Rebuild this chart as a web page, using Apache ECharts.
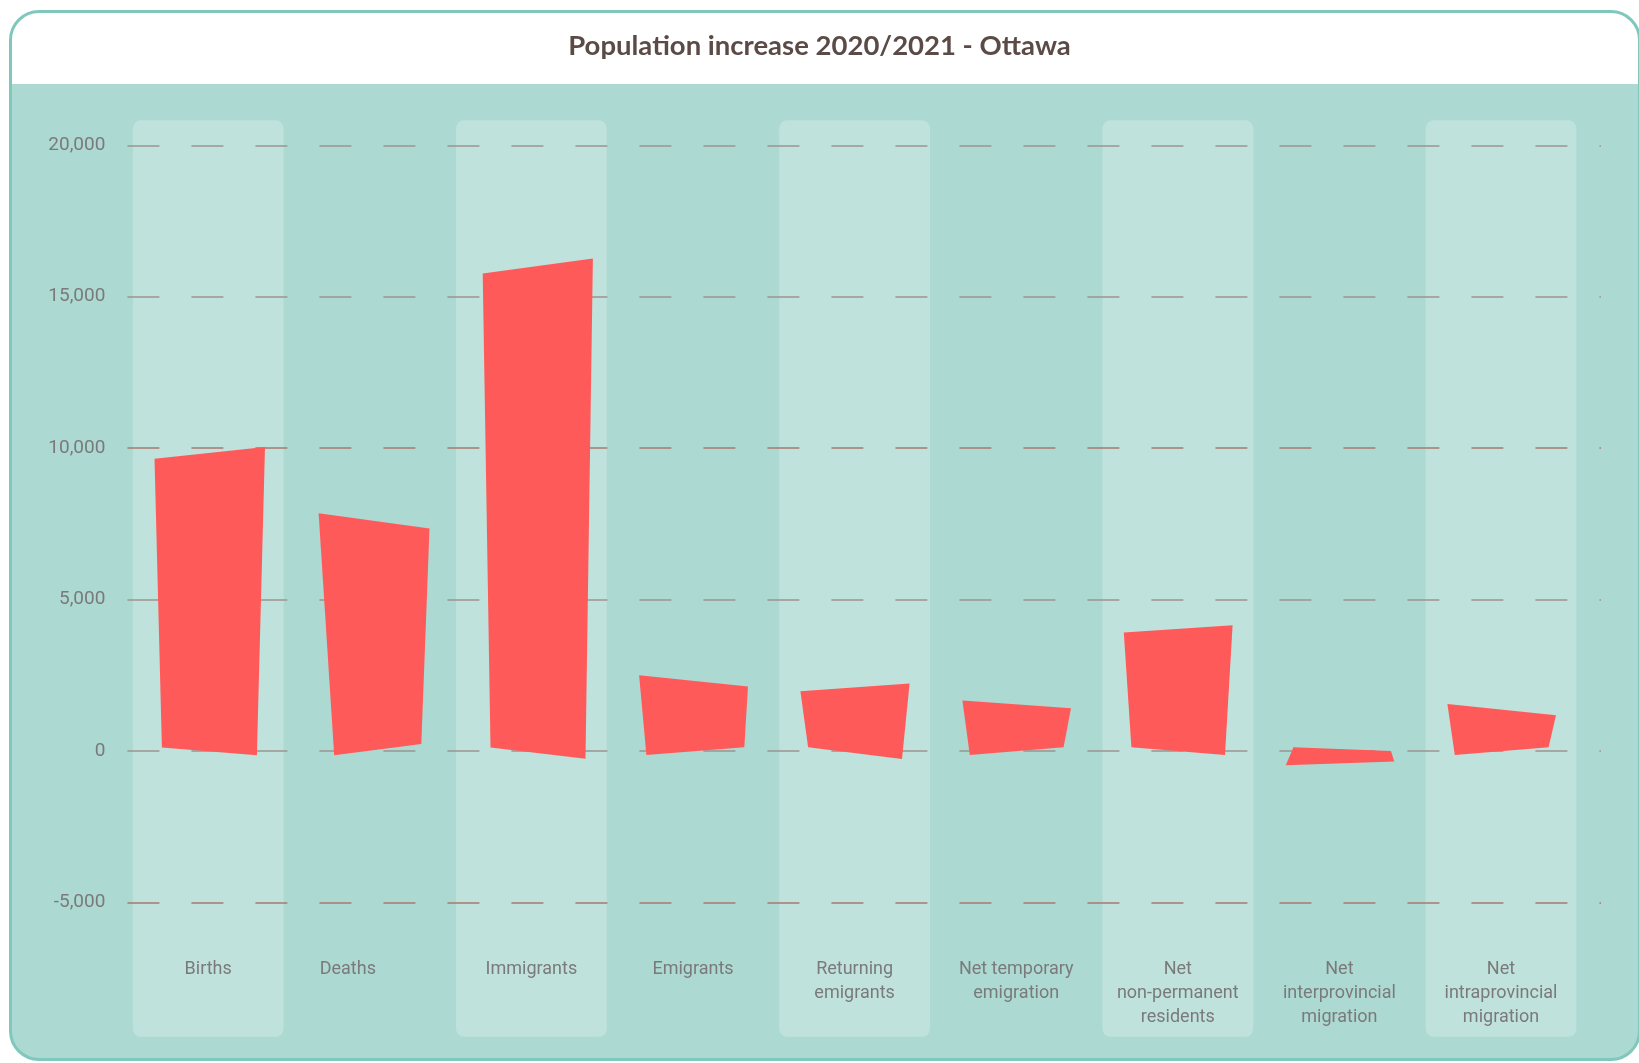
<!DOCTYPE html>
<html>
<head>
<meta charset="utf-8">
<script src="https://cdn.jsdelivr.net/npm/echarts@6/dist/echarts.min.js"></script>
<style>
  html, body { margin: 0; padding: 0; background: #ffffff; }
  #wrap { position: relative; width: 1639px; height: 1063px; overflow: hidden; }
  #card {
    position: absolute; left: 9px; top: 10px; width: 1632px; height: 1051px;
    box-sizing: border-box; border: 3px solid #80c8bc; border-radius: 30px;
    background: linear-gradient(#ffffff 0px, #ffffff 71px, #add9d3 71px);
  }
  #chart { position: absolute; left: 0; top: 0; width: 1639px; height: 1063px; }
</style>
</head>
<body>
<div id="wrap">
  <div id="card"></div>
  <div id="chart"></div>
</div>
<script>
// ---- data ----
const categories = [
  'Births', 'Deaths', 'Immigrants', 'Emigrants', 'Returning\nemigrants',
  'Net temporary\nemigration', 'Net\nnon-permanent\nresidents',
  'Net\ninterprovincial\nmigration', 'Net\nintraprovincial\nmigration'
];
const values = [9840, 7590, 16010, 2310, 2100, 1540, 4030, -410, 1370];
const yMin = -5000;
const yMax = 20000;
const yInterval = 5000;

// ---- style: hand-drawn corner wobble in pixels [vlx, vly, vrx, vry, zrx, zry, zlx, zly] ----
const sketchJitter = [
  [-3.6, 5.9, 6.7, -6.0, -1.4, 4.4, 3.8, -3.4],
  [-1.1, -7.7, 9.6, 7.5, 1.4, -6.8, 14.5, 4.4],
  [1.4, 7.4, 11.4, -7.5, 4.0, 7.8, 9.2, -3.4],
  [-3.8, -5.8, 4.9, 5.6, 1.2, -3.7, 3.5, 4.0],
  [-4.1, 3.9, 4.9, -3.8, -2.7, 8.0, 3.6, -3.7],
  [-3.7, -3.7, 4.7, 3.9, -2.7, -3.7, 3.7, 4.0],
  [-3.9, 3.6, 4.7, -3.7, -2.9, 4.0, 3.7, -3.7],
  [-3.5, 1.9, 4.8, -1.8, 1.5, 0, 4.1, -3.7],
  [-3.5, -5.5, 4.9, 5.8, -2.5, -3.7, 3.9, 4.0]
];

const chart = echarts.init(document.getElementById('chart'), null, { renderer: 'canvas' });

const gridTop = 145.3, gridBottom = 1063 - 902.3, gridLeft = 127.4;

function bandItem(params, api) {
  const i = api.value(0);
  const top = api.coord([i, yMax]);
  const bot = api.coord([i, yMin]);
  const w = api.size([1, 0])[0] * 0.933;
  const y0 = top[1] - 25;
  const y1 = bot[1] + 134.5;
  return {
    type: 'rect',
    shape: { x: top[0] - w / 2, y: y0, width: w, height: y1 - y0, r: 8 },
    style: { fill: '#c0e2dc' }
  };
}

function barItem(params, api) {
  const i = api.value(0);
  const v = api.value(1);
  const pv = api.coord([i, v]);
  const p0 = api.coord([i, 0]);
  const hw = api.size([1, 0])[0] * 0.31;
  const j = sketchJitter[params.dataIndex] || [0,0,0,0,0,0,0,0];
  const cx = pv[0];
  const pts = [
    [cx - hw + j[0], pv[1] + j[1]],
    [cx + hw + j[2], pv[1] + j[3]],
    [cx + hw + j[4], p0[1] + j[5]],
    [cx - hw + j[6], p0[1] + j[7]]
  ];
  return {
    type: 'polygon',
    shape: { points: pts },
    style: { fill: '#ff5a5a' }
  };
}

const option = {
  backgroundColor: 'transparent',
  animation: false,
  title: {
    text: 'Population increase 2020/2021 - Ottawa',
    left: 'center',
    top: 27,
    textStyle: { fontFamily: 'Lato', fontWeight: 'bold', fontSize: 27.5, color: '#5b4b47' }
  },
  grid: [
    { left: gridLeft, right: 1639 - 1601, top: gridTop, bottom: gridBottom },
    { left: gridLeft, right: 1639 - (gridLeft + 9 * 161.6), top: gridTop, bottom: gridBottom }
  ],
  xAxis: [
    { type: 'value', gridIndex: 0, min: 0, max: 1, show: false },
    {
      type: 'category', gridIndex: 1, data: categories, z: 5,
      axisLine: { show: false }, axisTick: { show: false }, splitLine: { show: false },
      axisLabel: {
        margin: 55, fontFamily: 'Roboto', fontSize: 18, lineHeight: 24,
        color: '#7a7a7a', verticalAlign: 'top', interval: 0,
        formatter: function (v) { return v === 'Deaths' ? '{d|' + v + '}' : v; },
        rich: {
          d: { fontFamily: 'Roboto', fontSize: 18, lineHeight: 24, color: '#7a7a7a', padding: [0, 44, 0, 0] }
        }
      }
    }
  ],
  yAxis: [
    {
      type: 'value', gridIndex: 0, min: yMin, max: yMax, interval: yInterval, z: 1,
      axisLine: { show: false }, axisTick: { show: false },
      axisLabel: { margin: 22, fontFamily: 'Roboto', fontSize: 19, color: '#7a7a7a', padding: [6, 0, 0, 0] },
      splitLine: {
        show: true,
        lineStyle: {
          color: ['#a87a72', '#9c9490', '#9c9490', '#a87a72', '#9c9490', '#9c9490'],
          width: 1.5, type: [32, 32], dashOffset: 0
        }
      }
    },
    { type: 'value', gridIndex: 1, min: yMin, max: yMax, interval: yInterval, show: false }
  ],
  series: [
    {
      type: 'custom', name: 'bands', xAxisIndex: 1, yAxisIndex: 1, z: 0, clip: false,
      silent: true, renderItem: bandItem,
      data: categories.map((c, i) => (i % 2 === 0 ? [i] : null)).filter(d => d !== null)
    },
    {
      type: 'custom', name: 'Population increase', xAxisIndex: 1, yAxisIndex: 1, z: 3, clip: false,
      renderItem: barItem,
      data: values.map((v, i) => [i, v])
    }
  ]
};
chart.setOption(option);
</script>
</body>
</html>
